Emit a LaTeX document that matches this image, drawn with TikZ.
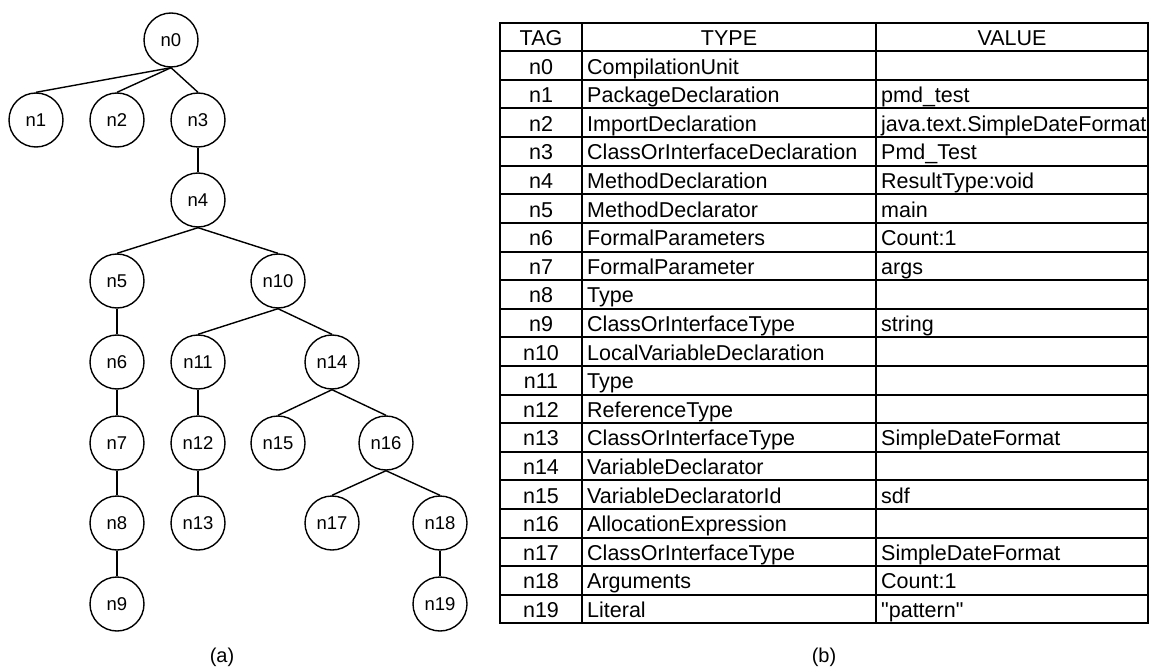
\documentclass[tikz,border=0pt]{standalone}
\usepackage{fontspec}
\setmainfont{Liberation Sans}
% plain family without TeX ligatures, so that " stays a straight quote
\newfontfamily\plainsans{Liberation Sans}
\begin{document}
\begin{tikzpicture}[x=1pt,y=-1pt,
  treenode/.style={circle,draw,line width=1.4pt,minimum size=54pt,inner sep=0pt,
    font=\plainsans\fontsize{18.5}{20}\selectfont},
  edge/.style={line width=1.4pt},
  cell/.style={inner sep=0pt,font=\plainsans\fontsize{21.5}{24}\selectfont},
  gridline/.style={line width=2pt},
  caption/.style={font=\plainsans\fontsize{20}{22}\selectfont}]

\useasboundingbox (0,0) rectangle (1150,668);

% ---------- syntax tree ----------
\node[treenode] (n0)  at (171,40)  {n0};
\node[treenode] (n1)  at (36,120)  {n1};
\node[treenode] (n2)  at (117,120) {n2};
\node[treenode] (n3)  at (198,120) {n3};
\node[treenode] (n4)  at (198,200) {n4};
\node[treenode] (n5)  at (117,281) {n5};
\node[treenode] (n10) at (278,281) {n10};
\node[treenode] (n6)  at (117,362) {n6};
\node[treenode] (n11) at (198,362) {n11};
\node[treenode] (n14) at (332,362) {n14};
\node[treenode] (n7)  at (117,443) {n7};
\node[treenode] (n12) at (198,443) {n12};
\node[treenode] (n15) at (278,443) {n15};
\node[treenode] (n16) at (386,443) {n16};
\node[treenode] (n8)  at (117,523) {n8};
\node[treenode] (n13) at (198,523) {n13};
\node[treenode] (n17) at (332,523) {n17};
\node[treenode] (n18) at (440,523) {n18};
\node[treenode] (n9)  at (117,604) {n9};
\node[treenode] (n19) at (440,604) {n19};

\foreach \p/\c in {n0/n1,n0/n2,n0/n3,n3/n4,n4/n5,n4/n10,n5/n6,n6/n7,n7/n8,n8/n9,
                   n10/n11,n10/n14,n11/n12,n12/n13,n14/n15,n14/n16,n16/n17,n16/n18,n18/n19}
  \draw[edge] (\p.south) -- (\c.north);

\node[caption] (capa) at (222,657) {(a)};

% ---------- node table ----------
\def\tTop{22.7}
\def\tRow{28.6}
\pgfmathsetmacro\tBot{\tTop+21*\tRow}

\draw[gridline] (500,\tTop) rectangle (1148,\tBot);
\foreach \i in {1,...,20}
  \draw[gridline] (500,{\tTop+\i*\tRow}) -- (1148,{\tTop+\i*\tRow});
\draw[gridline] (582,\tTop) -- (582,\tBot);
\draw[gridline] (876,\tTop) -- (876,\tBot);

\pgfmathsetmacro\yh{\tTop+0.5*\tRow+8.5}
\node[cell,anchor=base] (htag)  at (541,\yh)  {TAG};
\node[cell,anchor=base] (htype) at (729,\yh)  {TYPE};
\node[cell,anchor=base] (hval)  at (1012,\yh) {VALUE};

\foreach \t/\ty/\v [count=\i] in {
  n0/CompilationUnit/{},
  n1/PackageDeclaration/pmd\_test,
  n2/ImportDeclaration/java.text.SimpleDateFormat,
  n3/ClassOrInterfaceDeclaration/Pmd\_Test,
  n4/MethodDeclaration/ResultType:void,
  n5/MethodDeclarator/main,
  n6/FormalParameters/Count:1,
  n7/FormalParameter/args,
  n8/Type/{},
  n9/ClassOrInterfaceType/string,
  n10/LocalVariableDeclaration/{},
  n11/Type/{},
  n12/ReferenceType/{},
  n13/ClassOrInterfaceType/SimpleDateFormat,
  n14/VariableDeclarator/{},
  n15/VariableDeclaratorId/sdf,
  n16/AllocationExpression/{},
  n17/ClassOrInterfaceType/SimpleDateFormat,
  n18/Arguments/Count:1,
  n19/Literal/"pattern"} {
  \pgfmathsetmacro\yc{\tTop+(\i+0.5)*\tRow+8.5}
  \node[cell,anchor=base] (tag\i) at (541,\yc) {\t};
  \node[cell,anchor=base west] (type\i) at (587,\yc) {\ty};
  \node[cell,anchor=base west] (val\i) at (881,\yc) {\v};
}

\node[caption] (capb) at (824,657) {(b)};
\end{tikzpicture}
\end{document}
